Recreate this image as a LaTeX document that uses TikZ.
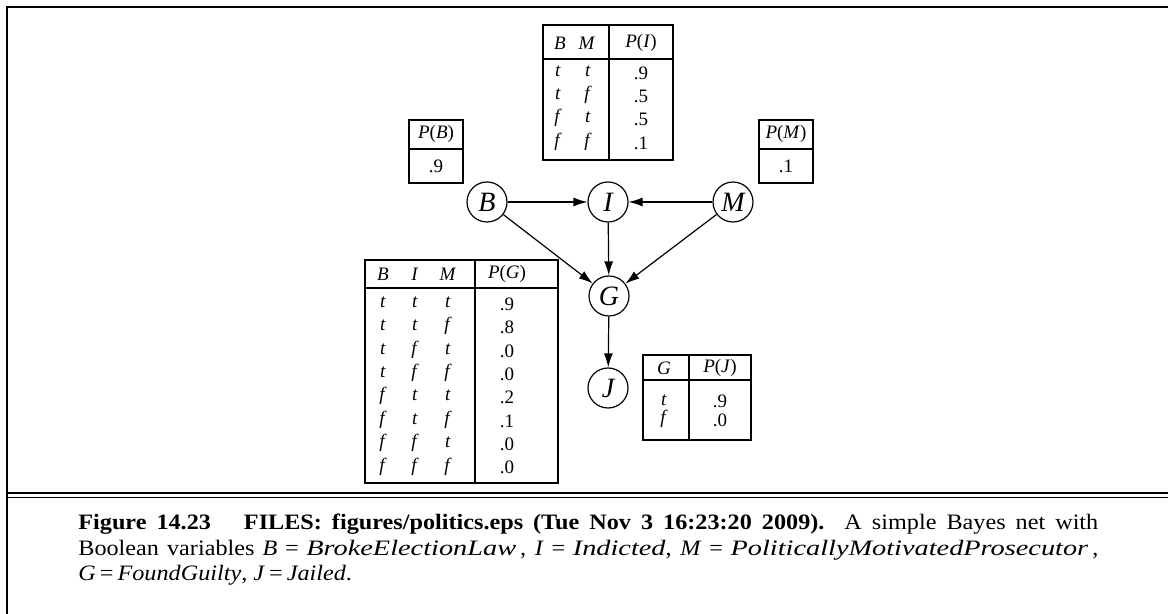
\documentclass[tikz,border=0pt]{standalone}
\usepackage{fontspec}
\setmainfont{Liberation Serif}
\usetikzlibrary{arrows.meta}
\newcommand{\capword}[1]{\scalebox{1.17}[1]{\textit{#1}}}
\newcommand{\capeq}{\hskip .25em plus .1em=\hskip .25em plus .1em}

\begin{document}
\begin{tikzpicture}[x=0.5pt,y=-0.5pt]
    \tikzset{
    bn node/.style={circle,draw,line width=0.6pt,minimum size=20pt,inner sep=0,font=\fontsize{14}{16}\selectfont\itshape},
    bn edge/.style={-{Latex[length=7pt,width=4.5pt]},line width=0.6pt},
    cpt rule/.style={line width=0.7pt},
    cpt text/.style={inner sep=0,align=center,font=\fontsize{9.5}{11.67}\selectfont}
    }
    \useasboundingbox (0,0) rectangle (1168,614);

    % frame
    \draw[line width=1pt] (7,614) -- (7,7) -- (1168,7);
    \draw[line width=0.75pt] (7,493) -- (1168,493) (7,497.5) -- (1168,497.5);

    % network
    \node[bn node] (B) at (487,202) {B};
    \node[bn node] (I) at (608,202) {I};
    \node[bn node] (M) at (733,202) {M};
    \node[bn node] (G) at (609,296) {G};
    \node[bn node] (J) at (608,388) {J};

    \path[draw,bn edge]
    (B) edge (I)
    (M) edge (I)
    (B) edge (G)
    (I) edge (G)
    (M) edge (G)
    (G) edge (J)
    ;

    % P(B), P(M)
    \draw[cpt rule] (409,120) rectangle (463,183) (409,149) -- (463,149);
    \node[cpt text] (pb head) at (436,134) {\textit{P}(\textit{B})};
    \node[cpt text] (pb body) at (436,166) {.9};
    \draw[cpt rule] (759,120) rectangle (813,183) (759,149) -- (813,149);
    \node[cpt text] (pm head) at (786,134) {\textit{P}(\textit{M})};
    \node[cpt text] (pm body) at (786,166) {.1};

    % P(I)
    \draw[cpt rule] (543,25) rectangle (673,160) (543,59) -- (673,59) (609,25) -- (609,160);
    \node[cpt text] (pi b) at (560,43) {\textit{B}};
    \node[cpt text] (pi m) at (587,43) {\textit{M}};
    \node[cpt text] (pi head) at (641,43) {\textit{P}(\textit{I})};
    \node[cpt text] (pi col1) at (558,108) {\textit{t}\\\textit{t}\\\textit{f}\\\textit{f}};
    \node[cpt text] (pi col2) at (588,108) {\textit{t}\\\textit{f}\\\textit{t}\\\textit{f}};
    \node[cpt text] (pi prob) at (641,108) {.9\\.5\\.5\\.1};

    % P(G)
    \draw[cpt rule] (365,260) rectangle (558,483) (365,288) -- (558,288) (475,260) -- (475,483);
    \node[cpt text] (pg b) at (383,274) {\textit{B}};
    \node[cpt text] (pg i) at (415,274) {\textit{I}};
    \node[cpt text] (pg m) at (448,274) {\textit{M}};
    \node[cpt text] (pg head) at (507,274) {\textit{P}(\textit{G})};
    \node[cpt text] (pg col1) at (383,386) {\textit{t}\\\textit{t}\\\textit{t}\\\textit{t}\\\textit{f}\\\textit{f}\\\textit{f}\\\textit{f}};
    \node[cpt text] (pg col2) at (415,386) {\textit{t}\\\textit{t}\\\textit{f}\\\textit{f}\\\textit{t}\\\textit{t}\\\textit{f}\\\textit{f}};
    \node[cpt text] (pg col3) at (448,386) {\textit{t}\\\textit{f}\\\textit{t}\\\textit{f}\\\textit{t}\\\textit{f}\\\textit{t}\\\textit{f}};
    \node[cpt text] (pg prob) at (507,386) {.9\\.8\\.0\\.0\\.2\\.1\\.0\\.0};

    % P(J)
    \draw[cpt rule] (643,355) rectangle (751,440) (643,380) -- (751,380) (689,355) -- (689,440);
    \node[cpt text] (pj g) at (664,368) {\textit{G}};
    \node[cpt text] (pj head) at (720,368) {\textit{P}(\textit{J})};
    \node[cpt text,font=\fontsize{9.5}{9.25}\selectfont] (pj col1) at (664,411) {\textit{t}\\\textit{f}};
    \node[cpt text,font=\fontsize{9.5}{9.25}\selectfont] (pj prob) at (720,411) {.9\\.0};

    % caption (justified lines)
    \tikzset{cap line/.style={anchor=base west,inner sep=0,font=\fontsize{11}{12}\selectfont}}
    \node[cap line] (cap1) at (78,530) {\scalebox{1.1}[1]{\makebox[463.6pt][s]{\textbf{Figure 14.23}\hskip 15pt\textbf{FILES: figures/politics.eps (Tue Nov 3 16:23:20 2009).}\ \ A simple Bayes net with}}};
    \node[cap line] (cap2) at (78,556) {\scalebox{1.1}[1]{\makebox[463.6pt][s]{Boolean variables \textit{B}\capeq\capword{BrokeElectionLaw}\,, \textit{I}\capeq\capword{Indicted}, \textit{M}\capeq\capword{PoliticallyMotivatedProsecutor}\,,}}};
    \node[cap line] (cap3) at (78,581) {\scalebox{1.1}[1]{\textit{G}\,=\,\textit{FoundGuilty}, \textit{J}\,=\,\textit{Jailed}.}};
\end{tikzpicture}
\end{document}
